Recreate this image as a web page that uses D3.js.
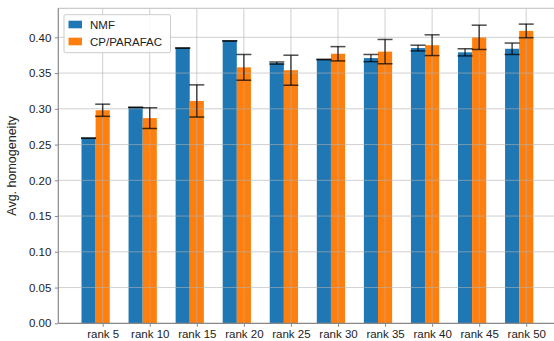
<!DOCTYPE html>
<html><head><meta charset="utf-8">
<script src="https://cdn.jsdelivr.net/npm/d3@7"></script>
<style>body{margin:0;background:#fff;} svg{display:block;font-family:"Liberation Sans",Arial,sans-serif;}</style>
</head><body><svg id="c" width="554" height="341"></svg>
<script>
const categories = ["rank 5","rank 10","rank 15","rank 20","rank 25","rank 30","rank 35","rank 40","rank 45","rank 50"];
const nmfMean = [0.259,0.302,0.385,0.395,0.364,0.369,0.371,0.385,0.379,0.384];
const nmfErr  = [0.000,0.000,0.000,0.000,0.0015,0.000,0.005,0.004,0.005,0.008];
const cpMean  = [0.298,0.287,0.311,0.358,0.354,0.377,0.380,0.389,0.400,0.409];
const cpErr   = [0.0085,0.0145,0.0225,0.018,0.021,0.010,0.017,0.0145,0.017,0.0095];
const seriesNames = ["NMF","CP/PARAFAC"];
const colors = ["#1f77b4","#ff7f0e"];
const yTicks = [0,0.05,0.10,0.15,0.20,0.25,0.30,0.35,0.40];

const svg = d3.select("#c");
const L=58.3, R=554, T=8.3, B=323.3;
const x = d3.scaleLinear().domain([-0.943, 9.59]).range([L,R]);
const y = d3.scaleLinear().domain([0, 0.4406]).range([B,T]);
const bw = x(0.3)-x(0);

// bars
const idx = d3.range(categories.length);
svg.append("g").selectAll("rect.n").data(idx).join("rect")
  .attr("x", i=>x(i-0.3)-bw/2).attr("width", bw)
  .attr("y", i=>y(nmfMean[i])).attr("height", i=>B-y(nmfMean[i]))
  .attr("fill", colors[0]);
svg.append("g").selectAll("rect.c").data(idx).join("rect")
  .attr("x", i=>x(i)-bw/2).attr("width", bw)
  .attr("y", i=>y(cpMean[i])).attr("height", i=>B-y(cpMean[i]))
  .attr("fill", colors[1]);

// grid (drawn over bars)
const grid = svg.append("g").attr("stroke","#b0b0b0").attr("stroke-opacity",0.6).attr("stroke-width",1);
yTicks.forEach(t=>{ if(t>0) grid.append("line").attr("x1",L).attr("x2",R).attr("y1",y(t)).attr("y2",y(t)); });
idx.forEach(i=>grid.append("line").attr("x1",x(i)).attr("x2",x(i)).attr("y1",T).attr("y2",B));

// error bars
function errbars(mean, err, off){
  const g = svg.append("g").attr("stroke","#000").attr("stroke-opacity",0.7).attr("stroke-width",1.5);
  idx.forEach(i=>{
    const cx = x(i+off), hi=y(mean[i]+err[i]), lo=y(mean[i]-err[i]);
    g.append("line").attr("x1",cx).attr("x2",cx).attr("y1",hi).attr("y2",lo);
    g.append("line").attr("x1",cx-7.5).attr("x2",cx+7.5).attr("y1",hi).attr("y2",hi);
    g.append("line").attr("x1",cx-7.5).attr("x2",cx+7.5).attr("y1",lo).attr("y2",lo);
  });
}
errbars(nmfMean, nmfErr, -0.3);
errbars(cpMean, cpErr, 0);

// spines
svg.append("line").attr("x1",L).attr("x2",R).attr("y1",T).attr("y2",T).attr("stroke","#cccccc").attr("stroke-width",1.2);

// axes
const yAxis = d3.axisLeft(y).tickValues(yTicks).tickFormat(d3.format(".2f")).tickSize(3.5).tickPadding(3.5);
const gy = svg.append("g").attr("transform",`translate(${L},0)`).call(yAxis);
const xAxis = d3.axisBottom(x).tickValues(idx).tickFormat(i=>categories[i]).tickSize(3.5).tickPadding(3);
const gx = svg.append("g").attr("transform",`translate(0,${B})`).call(xAxis);
[gx,gy].forEach(g=>{
  g.select(".domain").attr("stroke","#888").attr("stroke-width",1.2);
  g.selectAll(".tick line").attr("stroke","#888");
  g.selectAll("text").attr("font-size","11.5px").attr("fill","#222").attr("font-family","Liberation Sans, Arial, sans-serif");
});
gy.select(".domain").attr("d",`M0,${B}V${T}`);
gx.select(".domain").attr("d",`M${L},0H${R}`);

// y label
svg.append("text").attr("transform",`translate(16,${(T+B)/2}) rotate(-90)`)
  .attr("text-anchor","middle").attr("font-size","12.5px").attr("fill","#222").text("Avg. homogeneity");

// legend
const lg = svg.append("g");
lg.append("rect").attr("x",64).attr("y",14.7).attr("width",106.5).attr("height",38).attr("rx",1.5)
  .attr("fill","#fff").attr("fill-opacity",0.85).attr("stroke","#cccccc");
seriesNames.forEach((s,k)=>{
  const cy = 24.5 + k*17;
  lg.append("rect").attr("x",68.5).attr("y",cy-3.8).attr("width",13.5).attr("height",7.6).attr("fill",colors[k]);
  lg.append("text").attr("x",90).attr("y",cy+4).attr("font-size","11.5px").attr("fill","#222").text(s);
});
</script></body></html>
